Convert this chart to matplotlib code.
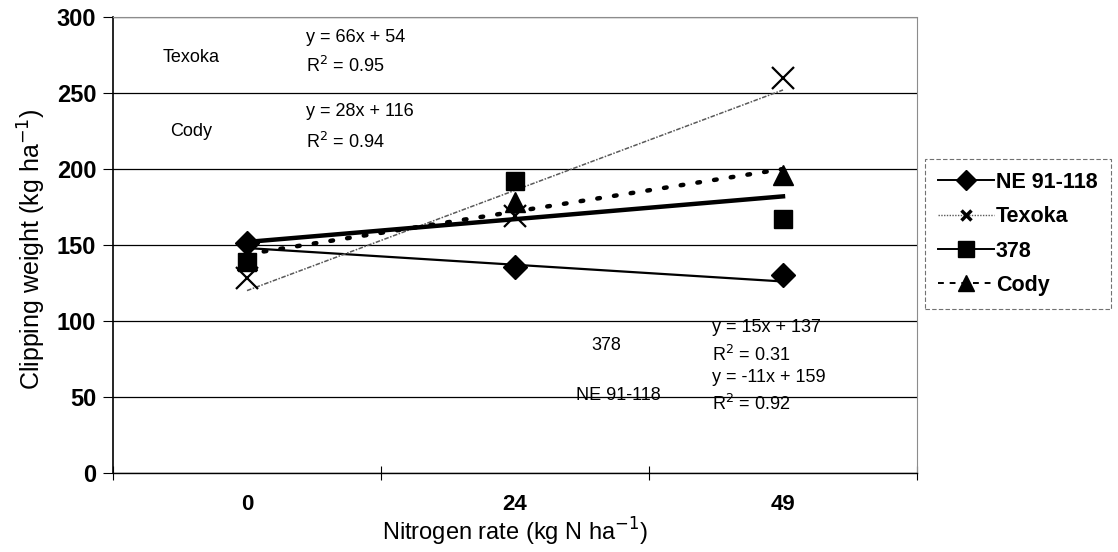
import numpy as np
import matplotlib.pyplot as plt
from matplotlib.lines import Line2D

plt.rcParams['font.family'] = ['Liberation Sans', 'DejaVu Sans']

# Nitrogen rates (categories) and clipping weights per cultivar
rates = ['0', '24', '49']
ne = [151.5, 135.5, 130]
texoka = [128, 169, 260]
c378 = [139, 192, 167]
cody = [140, 178, 196]

# linear trendlines (x = category index 1..3)
fits = {
    'NE 91-118': (-11, 159, 0.92),
    'Texoka': (66, 54, 0.95),
    '378': (15, 137, 0.31),
    'Cody': (28, 116, 0.94),
}

W, H = 1118, 552
fig = plt.figure(figsize=(W / 100, H / 100), dpi=100)
ax = fig.add_axes([113 / W, 1 - 473 / H, (917 - 113) / W, (473 - 17) / H])

x = np.arange(len(rates))
xt = x + 1

# trendlines
m, b, r2 = fits['NE 91-118']
ax.plot(x, m * xt + b, color='black', lw=1.6, zorder=3)
m, b, r2 = fits['Texoka']
ax.plot(x, m * xt + b, color='0.35', lw=1.1, ls=(0, (3, 1, 1, 1)), zorder=3)
m, b, r2 = fits['378']
ax.plot(x, m * xt + b, color='black', lw=3.2, zorder=3)
m, b, r2 = fits['Cody']
ax.plot(x, m * xt + b, color='black', lw=3.2, ls=(0, (0.6, 3.2)),
        dash_capstyle='round', zorder=3)

# data points
ax.plot(x, cody, ls='none', marker='^', ms=14, color='black', zorder=4)
ax.plot(x, c378, ls='none', marker='s', ms=12.5, color='black', zorder=5)
ax.plot(x, texoka, ls='none', marker='x', ms=16, mew=1.6, color='black', zorder=5)
ax.plot(x, ne, ls='none', marker='D', ms=12, color='black', zorder=6)

ax.set_xlim(-0.5, 2.5)
ax.set_ylim(0, 300)
ax.set_yticks(np.arange(0, 301, 50))
ax.yaxis.grid(True, color='black', lw=0.9)
ax.set_axisbelow(True)

ax.set_xticks([-0.5, 0.5, 1.5, 2.5])
ax.set_xticklabels([])
ax.set_xticks(x, minor=True)
ax.set_xticklabels(rates, minor=True, fontsize=16, fontweight='bold')
ax.tick_params(axis='x', which='minor', length=0, pad=15)
ax.tick_params(axis='x', which='major', direction='inout', length=10, width=0.8)
ax.tick_params(axis='y', direction='out', length=7, width=0.8, labelsize=17, pad=5)
for lab in ax.get_yticklabels():
    lab.set_fontweight('bold')

ax.spines['left'].set_linewidth(1.2)
ax.spines['bottom'].set_linewidth(1.0)
for s in ['top', 'right']:
    ax.spines[s].set_color('0.55')
    ax.spines[s].set_linestyle((0, (2, 1)))
    ax.spines[s].set_linewidth(0.8)

ax.set_xlabel('Nitrogen rate (kg N ha$^{-1}$)', fontsize=17, labelpad=1)
ax.set_ylabel('Clipping weight (kg ha$^{-1}$)', fontsize=18)
ax.yaxis.set_label_coords(-65 / 804, 0.49)

# equation labels
def ftext(px, py, s, ha='left'):
    fig.text(px / W, 1 - py / H, s, fontsize=13, ha=ha, va='center')

def eq(name):
    m, b, r2 = fits[name]
    return 'y = %dx + %d' % (m, b), 'R$^2$ = %.2f' % r2

ftext(191, 57, 'Texoka', ha='center')
e, r = eq('Texoka')
ftext(306, 37, e)
ftext(306, 66, r)

ftext(191, 131, 'Cody', ha='center')
e, r = eq('Cody')
ftext(306, 112, e)
ftext(306, 142, r)

ftext(606, 345, '378', ha='center')
e, r = eq('378')
ftext(712, 327, e)
ftext(712, 355, r)

ftext(618, 395, 'NE 91-118', ha='center')
e, r = eq('NE 91-118')
ftext(712, 377, e)
ftext(712, 404, r)

# legend
handles = [
    Line2D([], [], color='black', lw=1.4, marker='D', ms=10),
    Line2D([], [], color='0.35', lw=1.0, ls=(0, (1, 1)), marker='x', ms=7, mew=2.5,
           markeredgecolor='black'),
    Line2D([], [], color='black', lw=1.4, marker='s', ms=11),
    Line2D([], [], color='black', lw=1.4, ls=(0, (3, 3)), marker='^', ms=11),
]
leg = fig.legend(handles, list(fits.keys()), loc='upper left',
                 bbox_to_anchor=(925 / W, 1 - 159 / H), fontsize=15.5,
                 handlelength=2.6, handletextpad=0.1, labelspacing=0.62,
                 borderpad=0.6, fancybox=False, frameon=True, borderaxespad=0)
for t in leg.get_texts():
    t.set_fontweight('bold')
leg.get_frame().set_edgecolor('0.3')
leg.get_frame().set_linestyle((0, (4, 2)))
leg.get_frame().set_linewidth(0.8)

fig.savefig('out.png', dpi=100)
